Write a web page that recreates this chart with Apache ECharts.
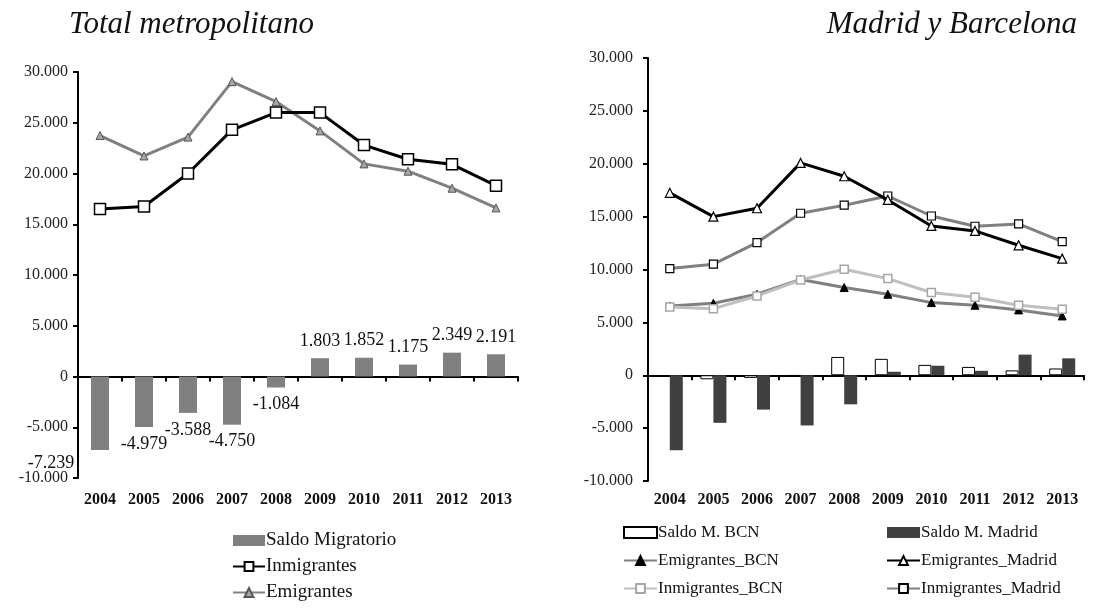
<!DOCTYPE html>
<html>
<head>
<meta charset="utf-8">
<script src="https://cdn.jsdelivr.net/npm/echarts@6/dist/echarts.min.js"></script>
<style>
    html, body { margin: 0; padding: 0; background: #fff; }
    #chart { width: 1102px; height: 608px; }
</style>
</head>
<body>
<div id="chart"></div>
<script>
    // datos
    var years = ['2004', '2005', '2006', '2007', '2008', '2009', '2010', '2011', '2012', '2013'];

    // Total metropolitano
    var saldoTotal = [-7239, -4979, -3588, -4750, -1084, 1803, 1852, 1175, 2349, 2191];
    var inmTotal = [16500, 16750, 20000, 24300, 26000, 26000, 22800, 21400, 20900, 18800];
    var emiTotal = [23739, 21729, 23588, 29050, 27084, 24197, 20948, 20225, 18551, 16609];

    // Madrid y Barcelona
    var saldoBCN = [-60, -380, -250, -40, 1730, 1550, 980, 790, 460, 640];
    var saldoMadrid = [-7100, -4500, -3250, -4750, -2750, 330, 900, 420, 1950, 1600];
    var emiBCN = [6550, 6810, 7660, 9050, 8290, 7660, 6870, 6620, 6180, 5610];
    var emiMadrid = [17250, 15000, 15790, 20080, 18820, 16580, 14120, 13650, 12290, 11030];
    var inmBCN = [6460, 6300, 7500, 9010, 10020, 9140, 7820, 7380, 6620, 6240];
    var inmMadrid = [10090, 10500, 12550, 15320, 16080, 16950, 15060, 14090, 14310, 12640];

    var yTicks = { min: -10000, max: 30000, interval: 5000 };

    var serif = 'Liberation Serif';

    function fmt(v) {
        var s = Math.abs(v).toString().replace(/\B(?=(\d{3})+(?!\d))/g, '.');
        return (v < 0 ? '-' : '') + s;
    }

    var myChart = echarts.init(document.getElementById('chart'));

    // etiquetas de las barras (la de 2004 esta movida a la izquierda como en el original)
    var saldoData = saldoTotal.map(function (v, i) {
        var item = {
            value: v,
            label: { position: v < 0 ? 'bottom' : 'top' }
        };
        if (i === 0) item.label.offset = [-49, -4];
        return item;
    });

    function yAxisCfg(gridIndex, margin) {
        return {
            type: 'value',
            gridIndex: gridIndex,
            min: yTicks.min,
            max: yTicks.max,
            interval: yTicks.interval,
            splitLine: { show: false },
            axisLine: { show: true, lineStyle: { color: '#000', width: 2 } },
            axisTick: { show: true, length: 5, lineStyle: { color: '#000', width: 2 } },
            axisLabel: { color: '#222', fontFamily: serif, fontSize: 16, margin: margin, formatter: fmt }
        };
    }

    function xAxisLine(gridIndex) {
        return {
            type: 'category',
            gridIndex: gridIndex,
            data: years,
            position: 'bottom',
            axisLine: { onZero: true, lineStyle: { color: '#000', width: 2 } },
            axisTick: { show: true, length: 5, lineStyle: { color: '#000', width: 2 } },
            axisLabel: { show: false }
        };
    }

    function xAxisLabels(gridIndex, margin) {
        return {
            type: 'category',
            gridIndex: gridIndex,
            data: years,
            position: 'bottom',
            axisLine: { show: false, onZero: false },
            axisTick: { show: false },
            axisLabel: { color: '#111', fontFamily: serif, fontSize: 16, fontWeight: 'bold', margin: margin, interval: 0 }
        };
    }

    var legendText = function (size) {
        return { fontFamily: serif, fontSize: size, color: '#111', padding: [0, 0, 0, -4] };
    };

    var option = {
        animation: false,
        textStyle: { fontFamily: serif },
        title: [
            {
                text: 'Total metropolitano',
                left: 64, top: 4,
                textStyle: { fontFamily: serif, fontStyle: 'italic', fontWeight: 'normal', fontSize: 31, color: '#111' }
            },
            {
                text: 'Madrid y Barcelona',
                right: 20, top: 4,
                textStyle: { fontFamily: serif, fontStyle: 'italic', fontWeight: 'normal', fontSize: 31, color: '#111' }
            }
        ],
        legend: [
            {
                orient: 'vertical', left: 232, top: 531, itemGap: 7, padding: 0,
                itemWidth: 32, itemHeight: 11,
                textStyle: legendText(19),
                data: [{ name: 'Saldo Migratorio', icon: 'rect' }, 'Inmigrantes', 'Emigrantes']
            },
            {
                orient: 'vertical', left: 623, top: 524, itemGap: 11, padding: 0,
                itemWidth: 33, itemHeight: 11,
                textStyle: legendText(17),
                data: [{ name: 'Saldo M. BCN', icon: 'rect' }, 'Emigrantes_BCN', 'Inmigrantes_BCN']
            },
            {
                orient: 'vertical', left: 886, top: 524, itemGap: 11, padding: 0,
                itemWidth: 33, itemHeight: 11,
                textStyle: legendText(17),
                data: [{ name: 'Saldo M. Madrid', icon: 'rect' }, 'Emigrantes_Madrid', 'Inmigrantes_Madrid']
            }
        ],
        grid: [
            { left: 78, right: 584, top: 72, bottom: 130 },
            { left: 648, right: 18, top: 58, bottom: 127 }
        ],
        xAxis: [xAxisLine(0), xAxisLabels(0, 14), xAxisLine(1), xAxisLabels(1, 11)],
        yAxis: [yAxisCfg(0, 10), yAxisCfg(1, 15)],
        series: [
            {
                name: 'Saldo Migratorio',
                type: 'bar',
                xAxisIndex: 0, yAxisIndex: 0,
                barWidth: 18,
                itemStyle: { color: '#808080' },
                label: {
                    show: true, distance: 8,
                    fontFamily: serif, fontSize: 18, color: '#111',
                    formatter: function (p) { return fmt(p.value); }
                },
                data: saldoData
            },
            {
                name: 'Inmigrantes',
                type: 'line',
                xAxisIndex: 0, yAxisIndex: 0,
                symbol: 'rect', symbolSize: 11,
                lineStyle: { color: '#000', width: 3 },
                itemStyle: { color: '#fff', borderColor: '#000', borderWidth: 1.5 },
                z: 4,
                data: inmTotal
            },
            {
                name: 'Emigrantes',
                type: 'line',
                xAxisIndex: 0, yAxisIndex: 0,
                symbol: 'triangle', symbolSize: 8,
                lineStyle: { color: '#808080', width: 3 },
                itemStyle: { color: '#a6a6a6', borderColor: '#555', borderWidth: 1 },
                z: 3,
                data: emiTotal
            },

            // derecha
            {
                name: 'Saldo M. BCN',
                type: 'bar',
                xAxisIndex: 2, yAxisIndex: 1,
                barWidth: 13, barGap: '0%',
                itemStyle: { color: '#fff', borderColor: '#000', borderWidth: 1 },
                data: saldoBCN
            },
            {
                name: 'Saldo M. Madrid',
                type: 'bar',
                xAxisIndex: 2, yAxisIndex: 1,
                barWidth: 13, barGap: '0%',
                itemStyle: { color: '#404040' },
                data: saldoMadrid
            },
            {
                name: 'Emigrantes_BCN',
                type: 'line',
                xAxisIndex: 2, yAxisIndex: 1,
                symbol: 'triangle', symbolSize: 8,
                lineStyle: { color: '#808080', width: 3 },
                itemStyle: { color: '#000', borderColor: '#000', borderWidth: 1 },
                z: 3,
                data: emiBCN
            },
            {
                name: 'Emigrantes_Madrid',
                type: 'line',
                xAxisIndex: 2, yAxisIndex: 1,
                symbol: 'triangle', symbolSize: 9,
                lineStyle: { color: '#000', width: 3 },
                itemStyle: { color: '#fff', borderColor: '#000', borderWidth: 1.2 },
                z: 5,
                data: emiMadrid
            },
            {
                name: 'Inmigrantes_BCN',
                type: 'line',
                xAxisIndex: 2, yAxisIndex: 1,
                symbol: 'rect', symbolSize: 8,
                lineStyle: { color: '#bfbfbf', width: 3 },
                itemStyle: { color: '#fff', borderColor: '#a6a6a6', borderWidth: 1.5 },
                z: 4,
                data: inmBCN
            },
            {
                name: 'Inmigrantes_Madrid',
                type: 'line',
                xAxisIndex: 2, yAxisIndex: 1,
                symbol: 'rect', symbolSize: 8,
                lineStyle: { color: '#808080', width: 3 },
                itemStyle: { color: '#fff', borderColor: '#000', borderWidth: 1.2 },
                z: 4,
                data: inmMadrid
            }
        ]
    };

    myChart.setOption(option);
</script>
</body>
</html>
